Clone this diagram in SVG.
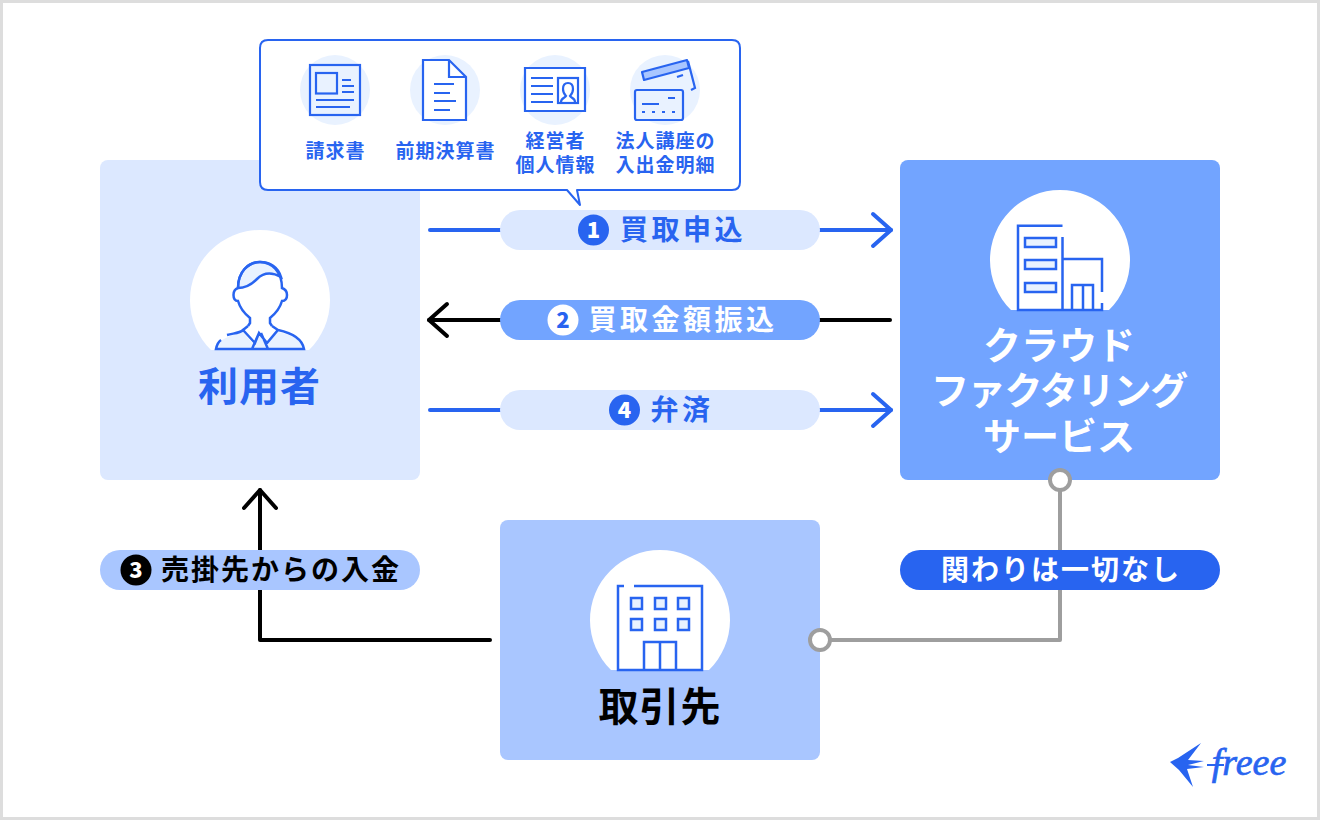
<svg xmlns="http://www.w3.org/2000/svg" width="1320" height="820" viewBox="0 0 1320 820">
<style>
text{font-family:"Noto Sans CJK JP","Noto Sans",sans-serif;font-weight:700;text-anchor:middle}
.big{font-size:40px;letter-spacing:1px}
.svc{font-size:38px;fill:#fff}
.pill{font-size:28px;letter-spacing:3.500px}
.pill2{font-size:28px;letter-spacing:2px}
.small{font-size:19px;letter-spacing:1px;fill:#2864f0}
.ic{fill:none;stroke:#2864f0;stroke-width:2.500}
.ic2{fill:none;stroke:#2864f0;stroke-width:2.200}
.pale{fill:#e9f2ff;stroke:#2864f0;stroke-width:2.500}
.halo{fill:#e9f2ff}
.conn{fill:none;stroke-width:4;stroke-linecap:round;stroke-linejoin:round}
.num{font-size:22px;font-weight:900}
</style>
<defs>
<marker id="ab" markerUnits="userSpaceOnUse" viewBox="-24 -20 28 40" refX="0" refY="0" markerWidth="28" markerHeight="40" orient="auto"><path d="M-18,-16L0,0L-18,16" fill="none" stroke="#2864f0" stroke-width="4" stroke-linecap="round" stroke-linejoin="round"/></marker>
<marker id="ak" markerUnits="userSpaceOnUse" viewBox="-24 -20 28 40" refX="0" refY="0" markerWidth="28" markerHeight="40" orient="auto"><path d="M-18,-16L0,0L-18,16" fill="none" stroke="#000" stroke-width="4" stroke-linecap="round" stroke-linejoin="round"/></marker>
</defs>
<rect x="0" y="0" width="1320" height="820" fill="#fff"/>
<rect x="1.500" y="1.500" width="1317" height="817" fill="none" stroke="#ddd" stroke-width="3"/>

<g id="user">
<rect x="100" y="160" width="320" height="320" rx="8" fill="#dce8ff"/>
<path d="M211,350A70,70 0 1 1 309,350Z" fill="#fff"/>
<path class="pale" d="M238,288C238,272 248,262 260,262C270,262 278,267 281,277C272,272 264,272 257,279C251,285 244,288 238,288Z"/>
<path fill="#e9f2ff" d="M216,349C217,342 224,337 243,332L253,344L259,333L267,343L278,332C296,336 303,342 303,349Z"/>
<path class="ic" d="M238,288C238,272 248,262 260,262C272,262 282,272 282,288C285,289 287,292 287,295C287,299 285,301 282,301C280,308 275,314 270,318V323L272,326M238,288C235,289 233.500,292 233.500,295C233.500,299 235,301 238,301C240,308 245,314 250,318V323L248,326"/>
<path class="ic" d="M227,335C235,333 240,333 243,330L255,343L259,333L267,343L278,330C292,333 302,338 304,349H216C217,344 218,342 221,340M259,333L252,349M261,333L268,349M248,326L243,330M272,326L278,330"/>
<text class="big" x="259.500" y="401" fill="#2864f0">利用者</text>
</g>

<g id="service">
<rect x="900" y="160" width="320" height="320" rx="8" fill="#72a4ff"/>
<path d="M1011,310A70,70 0 1 1 1109,310Z" fill="#fff"/>
<path class="ic" d="M1062.500,225.700H1018V310H1102V303M1102,292V259H1062.500M1062.500,237V310M1072,310V285H1093V310M1083,285V310"/>
<rect class="pale" x="1025" y="238" width="31" height="9"/>
<rect class="pale" x="1025" y="260" width="31" height="9"/>
<rect class="pale" x="1025" y="283" width="31" height="9"/>
<text class="svc" x="1059" y="359">クラウド</text>
<text class="svc" x="1059" y="404" style="letter-spacing:-1.200px">ファクタリング</text>
<text class="svc" x="1059" y="450">サービス</text>
</g>

<g id="partner">
<rect x="500" y="520" width="320" height="240" rx="8" fill="#a9c6ff"/>
<path d="M611,670A70,70 0 1 1 709,670Z" fill="#fff"/>
<path class="ic" d="M624,586H618V670H702V586H634M644,670V642H676V670M660,642V670"/>
<rect class="pale" x="631" y="598" width="11" height="11"/>
<rect class="pale" x="655" y="598" width="11" height="11"/>
<rect class="pale" x="678" y="598" width="11" height="11"/>
<rect class="pale" x="631" y="619" width="11" height="11"/>
<rect class="pale" x="655" y="619" width="11" height="11"/>
<rect class="pale" x="678" y="619" width="11" height="11"/>
<text class="big" x="660" y="721" fill="#000">取引先</text>
</g>

<g id="connectors">
<path class="conn" stroke="#2864f0" d="M430,230H891" marker-end="url(#ab)"/>
<path class="conn" stroke="#000" d="M890,320H429" marker-end="url(#ak)"/>
<path class="conn" stroke="#2864f0" d="M430,410H891" marker-end="url(#ab)"/>
<path class="conn" stroke="#000" d="M490,640H260V490" marker-end="url(#ak)"/>
<path class="conn" stroke="#9e9e9e" d="M820,640H1060V480"/>
<circle cx="820" cy="640" r="10" fill="#fff" stroke="#9e9e9e" stroke-width="4"/>
<circle cx="1060" cy="480" r="10" fill="#fff" stroke="#9e9e9e" stroke-width="4"/>
</g>

<g id="docs">
<path d="M268,40H732Q740,40 740,48V182Q740,190 732,190H577L580,205L567,190H268Q260,190 260,182V48Q260,40 268,40Z" fill="#fff" stroke="#2864f0" stroke-width="2" stroke-linejoin="round"/>
<g id="doc-invoice">
<circle class="halo" cx="335" cy="90" r="35"/>
<rect class="ic2" x="310" y="65" width="50" height="50"/>
<rect class="ic2" x="316" y="73" width="21" height="20.500"/>
<path class="ic2" d="M342,80H351M342,86H354M342,92H354M316,100H354M316,107H350"/>
<text class="small" x="335.500" y="158">請求書</text>
</g>
<g id="doc-statement">
<circle class="halo" cx="445" cy="90" r="35"/>
<path d="M423,60H449L466,77V120H423Z" fill="#fff" stroke="#2864f0" stroke-width="2.200"/>
<path class="ic2" d="M449,60V77H466M434,84H454M434,93H450M434,101H456M434,110H450"/>
<text class="small" x="445.500" y="158">前期決算書</text>
</g>
<g id="doc-id">
<circle class="halo" cx="555" cy="90" r="35"/>
<path d="M525,68H585V111H525Z" fill="#fff" stroke="#2864f0" stroke-width="2.200"/>
<path class="ic2" d="M531,78H553M531,86H553M531,94H553M531,102H553"/>
<rect class="ic2" x="558" y="78" width="20" height="25"/>
<path class="ic2" d="M561,102C561,98 565,98 566,96C564,94 563,92 563,89C563,85 565,83 568,83C571,83 573,85 573,89C573,92 572,94 570,96C571,98 575,98 575,102"/>
<text class="small" x="555.500" y="148">経営者</text>
<text class="small" x="555.500" y="172">個人情報</text>
</g>
<g id="doc-bank">
<circle class="halo" cx="665" cy="90" r="35"/>
<path class="ic2" d="M688,61L695,88L691,90"/>
<path d="M642,72L687,60L689,68L644,80Z" fill="#a9c6ff" stroke="#2864f0" stroke-width="2.200" stroke-linejoin="round"/>
<path class="ic2" d="M677,77L683,75"/>
<rect x="635" y="90" width="48" height="30" rx="2" fill="#e9f2ff" stroke="#2864f0" stroke-width="2.200"/>
<path class="ic2" d="M668,98H675M642,104H659"/>
<path d="M642,112H676" fill="none" stroke="#2864f0" stroke-width="2" stroke-dasharray="3 7"/>
<text class="small" x="665.500" y="148">法人講座の</text>
<text class="small" x="665.500" y="172">入出金明細</text>
</g>
</g>

<g id="label-1">
<rect x="500" y="210" width="320" height="40" rx="20" fill="#dce8ff"/>
<circle cx="593.500" cy="230" r="15.500" fill="#2864f0"/>
<text class="num" x="593.500" y="238" fill="#fff">1</text>
<text class="pill" x="683" y="240" fill="#2864f0">買取申込</text>
</g>
<g id="label-2">
<rect x="500" y="300" width="320" height="40" rx="20" fill="#72a4ff"/>
<circle cx="563" cy="320" r="15.500" fill="#fff"/>
<text class="num" x="563" y="328" fill="#2864f0">2</text>
<text class="pill" x="683" y="330" fill="#fff">買取金額振込</text>
</g>
<g id="label-4">
<rect x="500" y="390" width="320" height="40" rx="20" fill="#dce8ff"/>
<circle cx="624.500" cy="410" r="15.500" fill="#2864f0"/>
<text class="num" x="624.500" y="418" fill="#fff">4</text>
<text class="pill" x="682" y="420" fill="#2864f0">弁済</text>
</g>
<g id="label-3">
<rect x="100" y="550" width="320" height="40" rx="20" fill="#a9c6ff"/>
<circle cx="136" cy="570" r="15.500" fill="#000"/>
<text class="num" x="136" y="578" fill="#fff">3</text>
<text class="pill2" x="281" y="580" fill="#000">売掛先からの入金</text>
</g>
<g id="label-none">
<rect x="900" y="550" width="320" height="40" rx="20" fill="#2864f0"/>
<text class="pill2" x="1061" y="580" fill="#fff">関わりは一切なし</text>
</g>

<g id="logo">
<path d="M1170,762L1178,758L1201,743L1188,760L1204,761L1188,765L1204,767L1187,769L1193,787L1179,770Z" fill="#2864f0"/>
<path d="M1207,765H1224" fill="none" stroke="#2864f0" stroke-width="2"/>
<text x="1249" y="775" fill="#2864f0" stroke="#2864f0" stroke-width="0.700" style="font-family:'Liberation Serif',serif;font-style:italic;font-weight:400;font-size:38px">freee</text>
</g>
</svg>
